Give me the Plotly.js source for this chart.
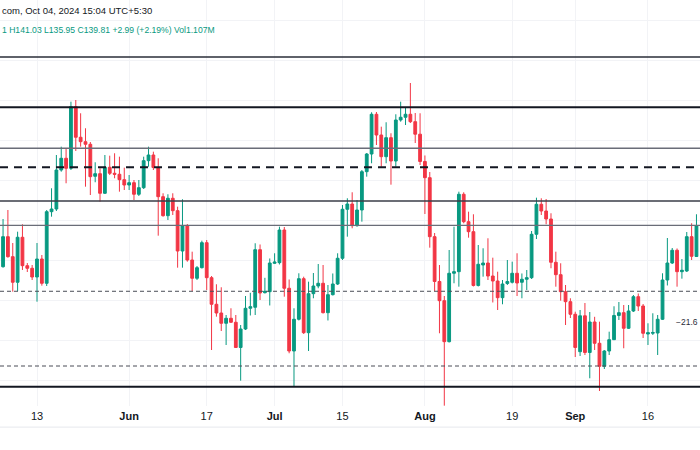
<!DOCTYPE html>
<html>
<head>
<meta charset="utf-8">
<script src="https://cdn.plot.ly/plotly-3.0.1.min.js"></script>
<style>
  html, body { margin: 0; padding: 0; background: #ffffff; }
  #chart { width: 700px; height: 450px; }
</style>
</head>
<body>
<div id="chart"></div>
<script>
// ---- data (daily candles) ----
const dates = [
  '2024-05-06','2024-05-07','2024-05-08','2024-05-09','2024-05-10','2024-05-11','2024-05-12','2024-05-13','2024-05-14','2024-05-15',
  '2024-05-16','2024-05-17','2024-05-18','2024-05-19','2024-05-20','2024-05-21','2024-05-22','2024-05-23','2024-05-24','2024-05-25',
  '2024-05-26','2024-05-27','2024-05-28','2024-05-29','2024-05-30','2024-05-31','2024-06-01','2024-06-02','2024-06-03','2024-06-04',
  '2024-06-05','2024-06-06','2024-06-07','2024-06-08','2024-06-09','2024-06-10','2024-06-11','2024-06-12','2024-06-13','2024-06-14',
  '2024-06-15','2024-06-16','2024-06-17','2024-06-18','2024-06-19','2024-06-20','2024-06-21','2024-06-22','2024-06-23','2024-06-24',
  '2024-06-25','2024-06-26','2024-06-27','2024-06-28','2024-06-29','2024-06-30','2024-07-01','2024-07-02','2024-07-03','2024-07-04',
  '2024-07-05','2024-07-06','2024-07-07','2024-07-08','2024-07-09','2024-07-10','2024-07-11','2024-07-12','2024-07-13','2024-07-14',
  '2024-07-15','2024-07-16','2024-07-17','2024-07-18','2024-07-19','2024-07-20','2024-07-21','2024-07-22','2024-07-23','2024-07-24',
  '2024-07-25','2024-07-26','2024-07-27','2024-07-28','2024-07-29','2024-07-30','2024-07-31','2024-08-01','2024-08-02','2024-08-03',
  '2024-08-04','2024-08-05','2024-08-06','2024-08-07','2024-08-08','2024-08-09','2024-08-10','2024-08-11','2024-08-12','2024-08-13',
  '2024-08-14','2024-08-15','2024-08-16','2024-08-17','2024-08-18','2024-08-19','2024-08-20','2024-08-21','2024-08-22','2024-08-23',
  '2024-08-24','2024-08-25','2024-08-26','2024-08-27','2024-08-28','2024-08-29','2024-08-30','2024-08-31','2024-09-01','2024-09-02',
  '2024-09-03','2024-09-04','2024-09-05','2024-09-06','2024-09-07','2024-09-08','2024-09-09','2024-09-10','2024-09-11','2024-09-12',
  '2024-09-13','2024-09-14','2024-09-15','2024-09-16','2024-09-17','2024-09-18','2024-09-19','2024-09-20','2024-09-21','2024-09-22',
  '2024-09-23','2024-09-24','2024-09-25','2024-09-26'
];
const openP = [
  148.33,155.83,150.83,144.43,155.68,148.58,147.93,145.75,150.25,144.18,
  162.08,162.75,172.5,175.43,172.93,188.33,180.68,179.58,178.93,170.93,
  171.58,166.68,173.18,171.68,171.43,170.08,168.75,169.33,166.43,168.08,
  174.83,176.25,173.13,165.83,161.08,165.43,162.33,152.25,158.5,150.0,
  145.43,148.08,154.33,145.58,138.93,136.75,134.18,135.43,134.43,128.13,
  132.75,137.93,138.18,152.58,141.83,142.08,149.18,149.33,157.5,142.93,
  127.25,135.18,145.33,131.83,141.58,143.5,144.18,136.83,141.33,144.0,
  150.43,162.68,164.0,158.58,162.5,172.08,176.5,186.43,181.25,175.83,
  180.58,174.75,185.0,185.68,186.43,184.58,181.45,174.63,170.58,155.83,
  144.63,139.83,129.58,146.68,147.08,166.43,159.58,157.08,143.63,148.75,
  149.25,146.0,144.75,140.58,144.13,144.43,146.68,144.43,145.18,145.58,
  156.43,163.93,162.25,160.25,149.43,146.33,142.08,139.58,136.43,127.08,
  136.05,126.88,134.5,129.18,123.43,127.25,130.08,136.13,136.83,132.93,
  137.25,140.83,138.5,131.5,131.68,131.75,135.18,145.0,149.25,152.43,
  147.08,147.25,155.83,150.88
];
const highP = [
  160.25,162.5,154.25,157.08,158.93,149.25,148.75,154.25,151.25,162.5,
  167.93,176.25,178.33,177.93,189.58,190.0,186.68,182.93,179.5,174.43,
  172.93,176.25,176.08,176.68,175.83,173.08,171.25,170.0,170.0,175.83,
  178.33,177.08,175.43,166.68,166.43,166.68,163.33,165.18,159.0,152.08,
  148.5,154.83,155.0,146.0,143.93,143.18,136.25,137.93,136.25,133.75,
  141.0,141.8,154.18,153.88,145.55,150.38,151.68,158.33,158.25,145.13,
  137.93,146.68,145.83,144.58,146.75,149.0,148.75,143.75,146.63,151.68,
  163.75,165.43,166.93,165.0,172.5,176.75,186.93,187.0,183.33,184.43,
  181.68,186.43,189.58,188.25,194.25,186.75,186.68,176.13,172.0,156.75,
  148.75,141.0,152.5,158.33,167.08,166.93,162.08,161.43,153.75,152.93,
  155.43,150.58,147.08,145.0,150.0,149.58,151.68,146.63,147.5,157.25,
  165.58,165.43,165.25,161.68,152.08,149.18,143.75,140.43,137.08,137.5,
  139.25,137.0,135.8,134.58,127.5,132.08,138.43,139.5,138.75,138.75,
  141.25,141.63,139.0,134.18,136.68,136.25,146.68,155.5,153.0,152.88,
  150.25,157.0,159.18,161.43
];
const lowP = [
  148.08,150.58,142.08,142.25,147.5,147.0,145.0,139.58,143.58,143.5,
  160.83,162.25,172.08,169.18,172.5,177.25,178.33,168.33,166.25,169.43,
  164.58,166.5,171.25,170.43,167.08,167.5,167.5,165.0,166.0,167.75,
  173.33,172.5,156.08,160.83,160.0,161.25,148.08,148.08,149.58,142.25,
  145.0,147.88,142.5,127.5,135.83,132.25,128.75,134.25,128.0,119.83,
  132.5,136.13,136.25,140.0,141.63,138.63,149.0,148.88,140.83,126.68,
  118.38,134.88,131.5,127.25,140.43,142.93,136.63,134.88,141.13,143.75,
  150.0,155.83,157.93,158.33,159.58,170.83,174.18,178.75,173.33,174.18,
  168.83,173.33,184.58,183.75,184.25,179.25,173.75,161.5,153.08,142.25,
  131.68,113.58,129.38,144.18,143.33,159.18,155.58,143.38,143.38,145.83,
  145.0,139.38,137.5,138.93,143.75,144.13,141.0,140.43,142.5,145.25,
  155.25,161.25,158.93,147.93,143.33,139.83,133.75,135.5,125.75,126.0,
  126.25,120.43,127.5,117.25,122.75,126.25,130.0,135.0,127.93,132.75,
  137.0,137.25,130.5,128.75,131.25,126.25,135.0,143.63,149.0,143.33,
  145.33,147.0,150.0,150.75
];
const closeP = [
  155.83,150.83,144.43,155.68,148.58,147.93,145.75,150.25,144.18,162.08,
  162.75,172.5,175.43,172.93,188.33,180.68,179.58,178.93,170.83,171.58,
  166.68,173.18,171.68,171.43,170.08,168.75,169.33,166.43,168.08,174.83,
  176.25,173.13,165.83,161.08,165.43,162.33,152.25,158.5,150.0,145.43,
  148.08,154.33,145.58,138.93,136.75,134.18,135.43,134.43,128.13,132.75,
  137.93,138.33,152.58,141.75,142.18,149.25,149.5,157.5,142.93,127.25,
  135.18,145.33,131.83,141.58,143.5,144.18,136.83,141.33,144.0,150.43,
  162.68,164.0,158.58,162.5,172.08,176.5,186.43,181.25,175.83,180.58,
  174.75,185.0,185.68,186.43,184.58,181.45,174.63,170.58,155.83,144.63,
  139.83,129.58,146.68,147.08,166.43,159.58,157.08,143.63,148.93,149.25,
  146.0,144.75,140.58,144.0,144.63,146.68,144.25,145.18,145.58,156.43,
  163.93,162.25,160.25,149.43,146.33,142.08,139.58,136.43,128.13,136.05,
  126.88,134.5,129.18,123.43,127.25,130.08,136.13,136.83,132.93,137.25,
  140.83,138.5,131.68,131.83,131.88,135.18,145.0,149.25,152.43,147.08,
  147.43,155.83,150.93,158.58
];
// horizontal drawn levels (price)
const levelPrices = [200.75, 188.18, 177.93, 173.18, 164.75, 158.68, 142.18, 123.5, 118.33];
// time axis labels
const tickDates = ['2024-05-13','2024-06-01','2024-06-17','2024-07-01','2024-07-15','2024-08-01','2024-08-19','2024-09-01','2024-09-16'];
const tickLabels = ['13','Jun','17','Jul','15','Aug','19','Sep','16'];
const headerLine1 = 'com, Oct 04, 2024 15:04 UTC+5:30';
const headerLine2 = '1 H141.03 L135.95 C139.81 +2.99 (+2.19%) Vol1.107M';
const measureLabel = '\u221221.6';

// ---- styles ----
const UP = '#089981', DOWN = '#f23645';
const levelStyles = [
  {color: '#2a2e39', width: 1.5, dash: 'solid'},
  {color: '#131722', width: 2, dash: 'solid'},
  {color: '#6a6d78', width: 1.5, dash: 'solid'},
  {color: '#131722', width: 2, dash: '8px,6px'},
  {color: '#3a3d47', width: 1.6, dash: 'solid'},
  {color: '#6a6d78', width: 1.2, dash: 'solid'},
  {color: '#4a4d57', width: 1, dash: '4px,3px'},
  {color: '#4a4d57', width: 1, dash: '4px,3px'},
  {color: '#131722', width: 2, dash: 'solid'}
];

const trace = {
  type: 'candlestick',
  x: dates, open: openP, high: highP, low: lowP, close: closeP,
  increasing: {line: {color: UP, width: 1}, fillcolor: UP},
  decreasing: {line: {color: DOWN, width: 1}, fillcolor: DOWN},
  whiskerwidth: 0,
  hoverinfo: 'skip',
  showlegend: false
};

const shapes = levelPrices.map((p, i) => ({
  type: 'line', xref: 'paper', x0: 0, x1: 1, yref: 'y', y0: p, y1: p,
  line: levelStyles[i], layer: 'above'
}));
// faint separator below time axis
shapes.push({type: 'line', xref: 'paper', x0: 0, x1: 1, yref: 'paper', y0: -0.052, y1: -0.052,
  line: {color: '#e6e8ee', width: 1}, layer: 'below'});

const tickText = tickLabels.map(t => /^[A-Za-z]/.test(t) ? '<b>' + t + '</b>' : t);

const layout = {
  width: 700, height: 450,
  margin: {l: 0, r: 0, t: 0, b: 44, pad: 0},
  paper_bgcolor: '#ffffff', plot_bgcolor: '#ffffff',
  font: {family: 'Liberation Sans, Arial, sans-serif', color: '#131722', size: 11},
  boxgap: 0.18,
  showlegend: false,
  xaxis: {
    type: 'date',
    range: ['2024-05-05 08:53', '2024-09-26 17:31'],
    rangeslider: {visible: false},
    tickmode: 'array', tickvals: tickDates, ticktext: tickText,
    showgrid: true, gridcolor: '#f2f3f6', gridwidth: 1,
    ticks: '', showline: false, zeroline: false,
    ticklabelstandoff: 2,
    tickfont: {size: 11, color: '#131722'},
    fixedrange: true
  },
  yaxis: {
    range: [113.5, 215],
    showticklabels: false, ticks: '',
    showgrid: true, gridcolor: '#f2f3f6', dtick: 10, tick0: 0,
    zeroline: false, showline: false, fixedrange: true
  },
  shapes: shapes,
  annotations: [
    {xref: 'paper', yref: 'paper', x: 0, y: 0.975, xanchor: 'left', yanchor: 'middle',
     text: headerLine1, showarrow: false, font: {size: 9.5, color: '#131722'}},
    {xref: 'paper', yref: 'paper', x: 0, y: 0.926, xanchor: 'left', yanchor: 'middle',
     text: headerLine2, showarrow: false, font: {size: 8.6, color: UP}},
    {xref: 'paper', yref: 'paper', x: 1, y: 0.207, xanchor: 'right', yanchor: 'middle',
     text: measureLabel, showarrow: false, font: {size: 8.5, color: '#2a2e39'}}
  ]
};

Plotly.newPlot('chart', [trace], layout, {displayModeBar: false, staticPlot: true});
</script>
</body>
</html>
